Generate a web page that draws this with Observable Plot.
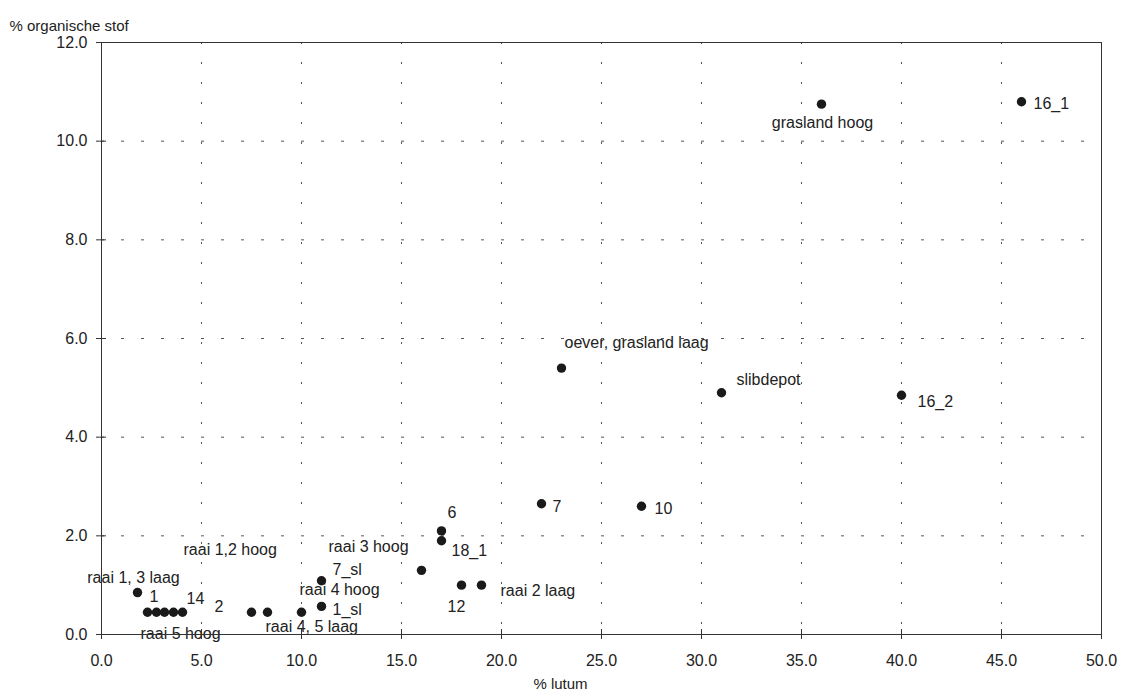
<!DOCTYPE html>
<html><head><meta charset="utf-8">
<script src="https://cdn.jsdelivr.net/npm/d3@7"></script>
<script src="https://cdn.jsdelivr.net/npm/@observablehq/plot@0.6"></script>
<style>body{margin:0;background:#fff}</style>
</head><body><div id="chart"></div>
<script>
// % lutum (x) and % organische stof (y) per sample
const lutum   = [1.8, 2.3, 2.75, 3.15, 3.6, 4.05, 7.5, 8.3, 10.0, 11.0, 11.0, 16.0, 17.0, 17.0, 18.0, 19.0, 22.0, 27.0, 23.0, 31.0, 40.0, 36.0, 46.0];
const organic = [0.85, 0.45, 0.45, 0.45, 0.45, 0.45, 0.45, 0.45, 0.45, 0.57, 1.09, 1.3, 2.1, 1.9, 1.0, 1.0, 2.65, 2.6, 5.4, 4.9, 4.85, 10.75, 10.8];

// labels and the point each one belongs to
const labelText  = ["raai 1, 3 laag", "1", "14", "2", "raai 5 hoog", "raai 1,2 hoog", "raai 4, 5 laag", "1_sl", "raai 4 hoog", "7_sl", "raai 3 hoog", "6", "18_1", "12", "raai 2 laag", "7", "10", "oever, grasland laag", "slibdepot", "16_2", "grasland hoog", "16_1"];
const labelPoint = [0, 0, 5, 5, 3, 6, 8, 9, 10, 10, 11, 12, 13, 14, 15, 16, 17, 18, 19, 20, 21, 22];

const xTicks = [0, 5, 10, 15, 20, 25, 30, 35, 40, 45, 50];
const yTicks = [0, 2, 4, 6, 8, 10, 12];
const xTitle = "% lutum";
const yTitle = "% organische stof";

// label offsets in pixels: [dx, dy, anchor]
const offs = [
  [-4, -15, "middle"], [12, 4, "start"], [4, -13, "start"], [32, -5, "start"],
  [-24, 22, "start"], [-68, -62, "start"], [-36, 15, "start"], [11, 3, "start"],
  [-22, 9, "start"], [11, -11, "start"], [-93, -23, "start"], [6, -18, "start"],
  [10, 10, "start"], [-14, 22, "start"], [19, 6, "start"], [11, 3, "start"],
  [13, 3, "start"], [3, -25, "start"], [15, -13, "start"], [16, 7, "start"],
  [1, 19, "middle"], [12, 2, "start"]
];

const pts = lutum.map((x, i) => ({x, y: organic[i]}));
const ink = "#222";

const labelMarks = labelText.map((t, k) => {
  const p = pts[labelPoint[k]];
  const [dx, dy, anchor] = offs[k];
  return Plot.text([{x: p.x, y: p.y, t}], {x: "x", y: "y", text: "t", dx, dy, textAnchor: anchor, fill: ink});
});

const chart = Plot.plot({
  width: 1121,
  height: 696,
  marginLeft: 101,
  marginRight: 20,
  marginTop: 42,
  marginBottom: 62,
  style: {fontFamily: "'Liberation Sans', Arial, sans-serif", fontSize: "16px", color: ink, background: "#fff"},
  x: {domain: [0, 50]},
  y: {domain: [0, 12]},
  marks: [
    Plot.gridX(xTicks.slice(1, -1), {stroke: "#555", strokeOpacity: 1, strokeDasharray: "2,18"}),
    Plot.gridY(yTicks.slice(1, -1), {stroke: "#555", strokeOpacity: 1, strokeDasharray: "3,17"}),
    ...labelMarks,
    Plot.frame({stroke: "#333"}),
    Plot.ruleX(xTicks, {x: d => d, y1: 0, y2: 0, insetTop: -5, insetBottom: -5, stroke: "#333"}),
    Plot.ruleY(yTicks, {y: d => d, x1: 0, x2: 0, insetLeft: -5, insetRight: -5, stroke: "#333"}),
    Plot.axisX(xTicks, {tickSize: 0, tickPadding: 20, tickFormat: d => d.toFixed(1), label: null, fill: ink}),
    Plot.axisY(yTicks, {tickSize: 0, tickPadding: 14, tickFormat: d => d.toFixed(1), label: null, fill: ink}),
    Plot.dot(pts, {x: "x", y: "y", r: 4.7, fill: "#1a1a1a", stroke: "none"}),
    Plot.text([yTitle], {frameAnchor: "top-left", text: d => d, dx: -92, dy: -22, textAnchor: "start", fontSize: 15, fill: ink}),
    Plot.text([xTitle], {frameAnchor: "bottom", text: d => d, dx: -41, dy: 54, textAnchor: "middle", fontSize: 15, fill: ink})
  ]
});
document.getElementById("chart").appendChild(chart);
</script>
</body></html>
